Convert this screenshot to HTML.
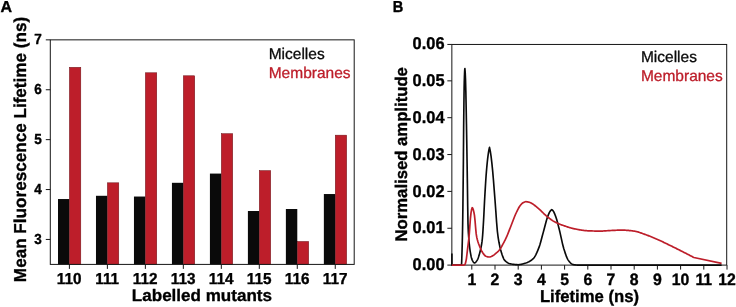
<!DOCTYPE html>
<html><head><meta charset="utf-8"><title>Figure</title>
<style>
html,body{margin:0;padding:0;background:#fff;}
body{width:736px;height:307px;overflow:hidden;}
svg{display:block;filter:blur(0.35px);}
text{font-family:"Liberation Sans",Arial,Helvetica,sans-serif;text-rendering:geometricPrecision;}
.tk,.tky,.tk2,.tk2y,.ax,.axa,.axb,.pla,.plb{stroke:#000;stroke-width:0.35px;stroke-linejoin:round;}
.tk{font-weight:bold;font-size:15.3px;}
.tky{font-weight:bold;font-size:13.5px;}
.tk2y{font-weight:bold;font-size:16.4px;}
.axb{font-weight:bold;font-size:16.7px;}
.axa{font-weight:bold;font-size:17.12px;}
.tk2{font-weight:bold;font-size:15.8px;}
.ax{font-weight:bold;font-size:17.05px;}
.lg{font-size:15.5px;stroke-width:0.3px;stroke-linejoin:round;}
.pla{font-weight:bold;font-size:16px;}
.plb{font-weight:bold;font-size:14.6px;}
</style></head><body>
<svg width="736" height="307" viewBox="0 0 736 307">
<rect x="0" y="0" width="736" height="307" fill="#ffffff"/>
<g id="panelA">
<rect x="58.00" y="199.03" width="11.40" height="65.37" fill="#0a0a0a"/>
<rect x="69.40" y="67.29" width="11.40" height="197.10" fill="#bd1e2a" stroke="#6a1218" stroke-width="0.5"/>
<rect x="95.98" y="195.79" width="11.40" height="68.61" fill="#0a0a0a"/>
<rect x="107.38" y="182.81" width="11.40" height="81.59" fill="#bd1e2a" stroke="#6a1218" stroke-width="0.5"/>
<rect x="133.96" y="196.54" width="11.40" height="67.86" fill="#0a0a0a"/>
<rect x="145.36" y="72.78" width="11.40" height="191.62" fill="#bd1e2a" stroke="#6a1218" stroke-width="0.5"/>
<rect x="171.94" y="182.81" width="11.40" height="81.59" fill="#0a0a0a"/>
<rect x="183.34" y="75.78" width="11.40" height="188.62" fill="#bd1e2a" stroke="#6a1218" stroke-width="0.5"/>
<rect x="209.92" y="173.58" width="11.40" height="90.82" fill="#0a0a0a"/>
<rect x="221.32" y="133.66" width="11.40" height="130.74" fill="#bd1e2a" stroke="#6a1218" stroke-width="0.5"/>
<rect x="247.90" y="211.01" width="11.40" height="53.39" fill="#0a0a0a"/>
<rect x="259.30" y="170.59" width="11.40" height="93.81" fill="#bd1e2a" stroke="#6a1218" stroke-width="0.5"/>
<rect x="285.88" y="209.01" width="11.40" height="55.39" fill="#0a0a0a"/>
<rect x="297.28" y="241.45" width="11.40" height="22.95" fill="#bd1e2a" stroke="#6a1218" stroke-width="0.5"/>
<rect x="323.86" y="194.04" width="11.40" height="70.36" fill="#0a0a0a"/>
<rect x="335.26" y="135.16" width="11.40" height="129.24" fill="#bd1e2a" stroke="#6a1218" stroke-width="0.5"/>
<rect x="50.3" y="39.85" width="303.9" height="224.54999999999998" fill="none" stroke="#161616" stroke-width="1"/>
<line x1="45.8" y1="239.45" x2="50.3" y2="239.45" stroke="#161616" stroke-width="1"/>
<text class="tky" transform="translate(41.80,243.80) scale(1,1.08)" text-anchor="end" fill="#000">3</text>
<line x1="45.8" y1="189.55" x2="50.3" y2="189.55" stroke="#161616" stroke-width="1"/>
<text class="tky" transform="translate(41.80,193.90) scale(1,1.08)" text-anchor="end" fill="#000">4</text>
<line x1="45.8" y1="139.65" x2="50.3" y2="139.65" stroke="#161616" stroke-width="1"/>
<text class="tky" transform="translate(41.80,144.00) scale(1,1.08)" text-anchor="end" fill="#000">5</text>
<line x1="45.8" y1="89.75" x2="50.3" y2="89.75" stroke="#161616" stroke-width="1"/>
<text class="tky" transform="translate(41.80,94.10) scale(1,1.08)" text-anchor="end" fill="#000">6</text>
<line x1="45.8" y1="39.85" x2="50.3" y2="39.85" stroke="#161616" stroke-width="1"/>
<text class="tky" transform="translate(41.80,44.20) scale(1,1.08)" text-anchor="end" fill="#000">7</text>
<line x1="69.40" y1="264.4" x2="69.40" y2="268.9" stroke="#161616" stroke-width="1"/>
<text class="tk" transform="translate(69.20,284.30) scale(1,1.04)" text-anchor="middle" fill="#000">110</text>
<line x1="107.38" y1="264.4" x2="107.38" y2="268.9" stroke="#161616" stroke-width="1"/>
<text class="tk" transform="translate(107.18,284.30) scale(1,1.04)" text-anchor="middle" fill="#000">111</text>
<line x1="145.36" y1="264.4" x2="145.36" y2="268.9" stroke="#161616" stroke-width="1"/>
<text class="tk" transform="translate(145.16,284.30) scale(1,1.04)" text-anchor="middle" fill="#000">112</text>
<line x1="183.34" y1="264.4" x2="183.34" y2="268.9" stroke="#161616" stroke-width="1"/>
<text class="tk" transform="translate(183.14,284.30) scale(1,1.04)" text-anchor="middle" fill="#000">113</text>
<line x1="221.32" y1="264.4" x2="221.32" y2="268.9" stroke="#161616" stroke-width="1"/>
<text class="tk" transform="translate(221.12,284.30) scale(1,1.04)" text-anchor="middle" fill="#000">114</text>
<line x1="259.30" y1="264.4" x2="259.30" y2="268.9" stroke="#161616" stroke-width="1"/>
<text class="tk" transform="translate(259.10,284.30) scale(1,1.04)" text-anchor="middle" fill="#000">115</text>
<line x1="297.28" y1="264.4" x2="297.28" y2="268.9" stroke="#161616" stroke-width="1"/>
<text class="tk" transform="translate(297.08,284.30) scale(1,1.04)" text-anchor="middle" fill="#000">116</text>
<line x1="335.26" y1="264.4" x2="335.26" y2="268.9" stroke="#161616" stroke-width="1"/>
<text class="tk" transform="translate(335.06,284.30) scale(1,1.04)" text-anchor="middle" fill="#000">117</text>
<text class="ax" transform="translate(201.90,301.40) scale(1,0.98)" text-anchor="middle" fill="#000">Labelled mutants</text>
<text class="axa" transform="translate(25.80,149.50) rotate(-90) scale(1,1.01)" text-anchor="middle" fill="#000">Mean Fluorescence Lifetime (ns)</text>
<text class="lg" transform="translate(268.70,59.30) scale(1,1.0)" text-anchor="start" fill="#0a0a0a" stroke="#0a0a0a">Micelles</text>
<text class="lg" transform="translate(268.70,78.00) scale(1,1.0)" text-anchor="start" fill="#bd1e2a" stroke="#bd1e2a">Membranes</text>
<text class="pla" transform="translate(0.50,12.00) scale(1,0.99)" text-anchor="start" fill="#000">A</text>
</g>
<g id="panelB">
<rect x="451.85" y="44.45" width="274.85" height="220.65000000000003" fill="none" stroke="#161616" stroke-width="1"/>
<line x1="447.35" y1="265.10" x2="451.85" y2="265.10" stroke="#161616" stroke-width="1"/>
<text class="tk2y" transform="translate(444.50,270.20) scale(1,1.04)" text-anchor="end" fill="#000">0.00</text>
<line x1="447.35" y1="228.25" x2="451.85" y2="228.25" stroke="#161616" stroke-width="1"/>
<text class="tk2y" transform="translate(444.50,233.35) scale(1,1.04)" text-anchor="end" fill="#000">0.01</text>
<line x1="447.35" y1="191.40" x2="451.85" y2="191.40" stroke="#161616" stroke-width="1"/>
<text class="tk2y" transform="translate(444.50,196.50) scale(1,1.04)" text-anchor="end" fill="#000">0.02</text>
<line x1="447.35" y1="154.55" x2="451.85" y2="154.55" stroke="#161616" stroke-width="1"/>
<text class="tk2y" transform="translate(444.50,159.65) scale(1,1.04)" text-anchor="end" fill="#000">0.03</text>
<line x1="447.35" y1="117.70" x2="451.85" y2="117.70" stroke="#161616" stroke-width="1"/>
<text class="tk2y" transform="translate(444.50,122.80) scale(1,1.04)" text-anchor="end" fill="#000">0.04</text>
<line x1="447.35" y1="80.85" x2="451.85" y2="80.85" stroke="#161616" stroke-width="1"/>
<text class="tk2y" transform="translate(444.50,85.95) scale(1,1.04)" text-anchor="end" fill="#000">0.05</text>
<line x1="447.35" y1="44.45" x2="451.85" y2="44.45" stroke="#161616" stroke-width="1"/>
<text class="tk2y" transform="translate(444.50,49.45) scale(1,1.04)" text-anchor="end" fill="#000">0.06</text>
<line x1="471.80" y1="265.1" x2="471.80" y2="269.6" stroke="#161616" stroke-width="1"/>
<text class="tk2" transform="translate(471.80,285.40) scale(1,1.04)" text-anchor="middle" fill="#000">1</text>
<line x1="495.00" y1="265.1" x2="495.00" y2="269.6" stroke="#161616" stroke-width="1"/>
<text class="tk2" transform="translate(495.00,285.40) scale(1,1.04)" text-anchor="middle" fill="#000">2</text>
<line x1="518.20" y1="265.1" x2="518.20" y2="269.6" stroke="#161616" stroke-width="1"/>
<text class="tk2" transform="translate(518.20,285.40) scale(1,1.04)" text-anchor="middle" fill="#000">3</text>
<line x1="541.40" y1="265.1" x2="541.40" y2="269.6" stroke="#161616" stroke-width="1"/>
<text class="tk2" transform="translate(541.40,285.40) scale(1,1.04)" text-anchor="middle" fill="#000">4</text>
<line x1="564.60" y1="265.1" x2="564.60" y2="269.6" stroke="#161616" stroke-width="1"/>
<text class="tk2" transform="translate(564.60,285.40) scale(1,1.04)" text-anchor="middle" fill="#000">5</text>
<line x1="587.80" y1="265.1" x2="587.80" y2="269.6" stroke="#161616" stroke-width="1"/>
<text class="tk2" transform="translate(587.80,285.40) scale(1,1.04)" text-anchor="middle" fill="#000">6</text>
<line x1="611.00" y1="265.1" x2="611.00" y2="269.6" stroke="#161616" stroke-width="1"/>
<text class="tk2" transform="translate(611.00,285.40) scale(1,1.04)" text-anchor="middle" fill="#000">7</text>
<line x1="634.20" y1="265.1" x2="634.20" y2="269.6" stroke="#161616" stroke-width="1"/>
<text class="tk2" transform="translate(634.20,285.40) scale(1,1.04)" text-anchor="middle" fill="#000">8</text>
<line x1="657.40" y1="265.1" x2="657.40" y2="269.6" stroke="#161616" stroke-width="1"/>
<text class="tk2" transform="translate(657.40,285.40) scale(1,1.04)" text-anchor="middle" fill="#000">9</text>
<line x1="680.60" y1="265.1" x2="680.60" y2="269.6" stroke="#161616" stroke-width="1"/>
<text class="tk2" transform="translate(680.60,285.40) scale(1,1.04)" text-anchor="middle" fill="#000">10</text>
<line x1="703.80" y1="265.1" x2="703.80" y2="269.6" stroke="#161616" stroke-width="1"/>
<text class="tk2" transform="translate(703.80,285.40) scale(1,1.04)" text-anchor="middle" fill="#000">11</text>
<line x1="727.00" y1="265.1" x2="727.00" y2="269.6" stroke="#161616" stroke-width="1"/>
<text class="tk2" transform="translate(727.00,285.40) scale(1,1.04)" text-anchor="middle" fill="#000">12</text>
<text class="axb" transform="translate(589.50,302.40) scale(1,1.02)" text-anchor="middle" fill="#000">Lifetime (ns)</text>
<text class="axb" transform="translate(406.90,154.30) rotate(-90) scale(1,1.01)" text-anchor="middle" fill="#000">Normalised amplitude</text>
<text class="lg" transform="translate(640.90,62.20) scale(1,1.0)" text-anchor="start" fill="#0a0a0a" stroke="#0a0a0a">Micelles</text>
<text class="lg" transform="translate(640.90,80.70) scale(1,1.0)" text-anchor="start" fill="#bd1e2a" stroke="#bd1e2a">Membranes</text>
<text class="plb" transform="translate(392.70,12.00) scale(1,1.085)" text-anchor="start" fill="#000">B</text>
<path d="M451.90,253.60 L451.90,265.10 L460.60,265.10 L460.60,265.10 L460.65,265.10 L460.71,265.09 L460.76,265.08 L460.82,265.06 L460.87,265.03 L460.93,265.00 L460.98,264.97 L461.04,264.92 L461.09,264.88 L461.14,264.82 L461.20,264.76 L461.25,264.69 L461.31,264.62 L461.36,264.54 L461.42,264.45 L461.47,264.35 L461.53,264.20 L461.58,263.68 L461.63,262.79 L461.69,261.59 L461.74,260.15 L461.80,258.53 L461.85,256.79 L461.91,255.01 L461.96,253.23 L462.02,251.53 L462.07,249.79 L462.12,247.95 L462.18,246.01 L462.23,243.97 L462.29,241.82 L462.34,239.54 L462.40,237.15 L462.45,234.63 L462.51,231.97 L462.56,229.17 L462.61,226.23 L462.67,223.02 L462.72,219.51 L462.78,215.73 L462.83,211.70 L462.89,207.44 L462.94,202.98 L462.99,198.34 L463.05,193.53 L463.10,188.59 L463.16,183.54 L463.21,178.39 L463.27,173.18 L463.32,167.85 L463.38,161.90 L463.43,155.39 L463.48,148.55 L463.54,141.61 L463.59,134.80 L463.65,128.34 L463.70,122.47 L463.76,117.40 L463.81,112.70 L463.87,108.06 L463.92,103.55 L463.97,99.22 L464.03,95.13 L464.08,91.35 L464.14,87.93 L464.19,84.94 L464.25,82.43 L464.30,80.46 L464.36,78.79 L464.41,77.17 L464.46,75.62 L464.52,74.17 L464.57,72.83 L464.63,71.63 L464.68,70.60 L464.74,69.76 L464.79,69.13 L464.85,68.74 L464.90,68.60 L464.90,68.60 L465.21,72.63 L465.52,79.80 L465.83,90.95 L466.15,106.91 L466.46,123.86 L466.77,142.60 L467.08,162.43 L467.39,183.15 L467.70,206.27 L468.01,224.12 L468.33,231.90 L468.64,236.49 L468.95,240.35 L469.26,243.75 L469.57,246.70 L469.88,249.21 L470.19,251.29 L470.51,253.18 L470.82,254.92 L471.13,256.47 L471.44,257.80 L471.75,258.86 L472.06,259.63 L472.37,260.29 L472.68,260.90 L473.00,261.47 L473.31,261.96 L473.62,262.36 L473.93,262.67 L474.24,262.85 L474.55,262.90 L474.86,262.83 L475.18,262.66 L475.49,262.41 L475.80,262.09 L476.11,261.72 L476.42,261.31 L476.73,260.88 L477.04,260.44 L477.36,259.92 L477.67,259.29 L477.98,258.56 L478.29,257.73 L478.60,256.82 L478.91,255.82 L479.22,254.77 L479.54,253.65 L479.85,252.48 L480.16,251.26 L480.47,250.01 L480.78,248.67 L481.09,247.18 L481.40,245.51 L481.72,243.59 L482.03,241.38 L482.34,238.74 L482.65,235.08 L482.96,230.57 L483.27,225.53 L483.58,220.28 L483.89,214.42 L484.21,207.83 L484.52,201.50 L484.83,195.98 L485.14,190.61 L485.45,185.43 L485.76,180.52 L486.07,175.96 L486.39,171.84 L486.70,168.21 L487.01,164.89 L487.32,161.79 L487.63,158.93 L487.94,156.34 L488.25,154.02 L488.57,152.00 L488.88,150.22 L489.19,148.68 L489.50,147.40 L489.50,147.40 L490.29,151.16 L491.08,156.42 L491.87,163.18 L492.65,170.88 L493.44,179.98 L494.23,190.11 L495.02,200.25 L495.81,211.06 L496.60,222.21 L497.39,231.50 L498.17,237.53 L498.96,242.28 L499.75,246.20 L500.54,249.42 L501.33,252.15 L502.12,254.68 L502.91,256.94 L503.69,258.80 L504.48,260.14 L505.27,260.95 L506.06,261.62 L506.85,262.21 L507.64,262.72 L508.43,263.14 L509.22,263.48 L510.00,263.74 L510.79,263.92 L511.58,264.06 L512.37,264.19 L513.16,264.32 L513.95,264.42 L514.74,264.52 L515.52,264.59 L516.31,264.65 L517.10,264.68 L517.89,264.70 L518.68,264.68 L519.47,264.61 L520.26,264.49 L521.04,264.33 L521.83,264.15 L522.62,263.94 L523.41,263.71 L524.20,263.47 L524.99,263.23 L525.78,262.99 L526.56,262.71 L527.35,262.40 L528.14,262.05 L528.93,261.67 L529.72,261.24 L530.51,260.76 L531.30,260.23 L532.08,259.64 L532.87,259.00 L533.66,258.22 L534.45,257.17 L535.24,255.86 L536.03,254.34 L536.82,252.65 L537.61,250.82 L538.39,248.91 L539.18,246.89 L539.97,244.47 L540.76,241.73 L541.55,238.80 L542.34,235.80 L543.13,232.88 L543.91,230.04 L544.70,227.04 L545.49,223.99 L546.28,221.05 L547.07,218.37 L547.86,216.11 L548.65,214.18 L549.43,212.46 L550.22,211.09 L551.01,210.17 L551.80,209.60 L551.80,209.60 L552.13,209.83 L552.46,210.13 L552.79,210.49 L553.13,210.90 L553.46,211.38 L553.79,211.95 L554.12,212.60 L554.45,213.34 L554.78,214.13 L555.12,214.98 L555.45,215.86 L555.78,216.77 L556.11,217.71 L556.44,218.73 L556.77,219.84 L557.11,221.02 L557.44,222.25 L557.77,223.52 L558.10,224.83 L558.43,226.15 L558.76,227.48 L559.10,228.80 L559.43,230.11 L559.76,231.47 L560.09,232.89 L560.42,234.36 L560.75,235.86 L561.09,237.38 L561.42,238.90 L561.75,240.41 L562.08,241.90 L562.41,243.35 L562.74,244.74 L563.08,246.07 L563.41,247.32 L563.74,248.48 L564.07,249.54 L564.40,250.58 L564.73,251.61 L565.07,252.63 L565.40,253.62 L565.73,254.57 L566.06,255.50 L566.39,256.37 L566.72,257.20 L567.06,257.97 L567.39,258.68 L567.72,259.32 L568.05,259.89 L568.38,260.38 L568.71,260.81 L569.05,261.23 L569.38,261.64 L569.71,262.04 L570.04,262.41 L570.37,262.76 L570.70,263.09 L571.04,263.39 L571.37,263.67 L571.70,263.91 L572.03,264.11 L572.36,264.28 L572.69,264.42 L573.03,264.51 L573.36,264.57 L573.69,264.64 L574.02,264.70 L574.35,264.76 L574.68,264.82 L575.02,264.87 L575.35,264.91 L575.68,264.96 L576.01,264.99 L576.34,265.02 L576.67,265.05 L577.01,265.07 L577.34,265.09 L577.67,265.10 L578.00,265.10 L721.60,265.10" fill="none" stroke="#0a0a0a" stroke-width="1.65" stroke-linejoin="round"/>
<path d="M451.90,265.10 L463.50,265.10 L463.50,265.10 L464.08,264.99 L464.65,264.68 L465.23,263.92 L465.81,261.82 L466.39,258.86 L466.96,254.26 L467.54,249.18 L468.12,244.57 L468.70,239.80 L469.27,234.07 L469.85,226.18 L470.43,218.29 L471.01,212.96 L471.58,209.56 L472.16,207.71 L472.74,208.20 L473.32,209.85 L473.89,212.21 L474.47,215.46 L475.05,220.94 L475.63,227.86 L476.20,233.95 L476.78,237.39 L477.36,239.82 L477.94,241.81 L478.51,243.50 L479.09,245.01 L479.67,246.48 L480.25,247.87 L480.82,249.19 L481.40,250.41 L481.98,251.52 L482.56,252.51 L483.13,253.38 L483.71,254.13 L484.29,254.85 L484.87,255.49 L485.44,255.99 L486.02,256.31 L486.60,256.51 L487.18,256.69 L487.75,256.84 L488.33,256.95 L488.91,257.00 L489.48,256.98 L490.06,256.87 L490.64,256.69 L491.22,256.46 L491.79,256.19 L492.37,255.91 L492.95,255.62 L493.53,255.28 L494.10,254.88 L494.68,254.42 L495.26,253.94 L495.84,253.44 L496.41,252.94 L496.99,252.44 L497.57,251.91 L498.15,251.35 L498.72,250.74 L499.30,250.09 L499.88,249.37 L500.46,248.53 L501.03,247.59 L501.61,246.57 L502.19,245.51 L502.77,244.43 L503.34,243.37 L503.92,242.28 L504.50,241.16 L505.08,240.01 L505.65,238.82 L506.23,237.59 L506.81,236.31 L507.39,234.97 L507.96,233.57 L508.54,232.13 L509.12,230.66 L509.70,229.18 L510.27,227.70 L510.85,226.23 L511.43,224.77 L512.01,223.27 L512.58,221.74 L513.16,220.20 L513.74,218.69 L514.32,217.21 L514.89,215.80 L515.47,214.48 L516.05,213.24 L516.62,212.00 L517.20,210.79 L517.78,209.63 L518.36,208.52 L518.93,207.50 L519.51,206.56 L520.09,205.74 L520.67,205.02 L521.24,204.33 L521.82,203.72 L522.40,203.21 L522.98,202.81 L523.55,202.49 L524.13,202.20 L524.71,201.95 L525.29,201.77 L525.86,201.70 L526.44,201.72 L527.02,201.79 L527.60,201.89 L528.17,202.01 L528.75,202.14 L529.33,202.29 L529.91,202.49 L530.48,202.74 L531.06,203.02 L531.64,203.32 L532.22,203.64 L532.79,204.00 L533.37,204.40 L533.95,204.82 L534.53,205.26 L535.10,205.72 L535.68,206.20 L536.26,206.68 L536.84,207.17 L537.41,207.67 L537.99,208.16 L538.57,208.64 L539.15,209.14 L539.72,209.66 L540.30,210.19 L540.88,210.74 L541.45,211.30 L542.03,211.86 L542.61,212.43 L543.19,213.00 L543.76,213.56 L544.34,214.12 L544.92,214.67 L545.50,215.21 L546.07,215.73 L546.65,216.23 L547.23,216.71 L547.81,217.16 L548.38,217.60 L548.96,218.04 L549.54,218.48 L550.12,218.90 L550.69,219.31 L551.27,219.72 L551.85,220.11 L552.43,220.49 L553.00,220.86 L553.58,221.21 L554.16,221.54 L554.74,221.86 L555.31,222.16 L555.89,222.45 L556.47,222.73 L557.05,223.00 L557.62,223.26 L558.20,223.52 L558.78,223.77 L559.36,224.01 L559.93,224.24 L560.51,224.47 L561.09,224.69 L561.67,224.90 L562.24,225.12 L562.82,225.32 L563.40,225.53 L563.98,225.73 L564.55,225.92 L565.13,226.12 L565.71,226.32 L566.28,226.51 L566.86,226.70 L567.44,226.89 L568.02,227.08 L568.59,227.26 L569.17,227.44 L569.75,227.61 L570.33,227.78 L570.90,227.95 L571.48,228.11 L572.06,228.26 L572.64,228.41 L573.21,228.55 L573.79,228.68 L574.37,228.81 L574.95,228.93 L575.52,229.04 L576.10,229.15 L576.68,229.26 L577.26,229.37 L577.83,229.48 L578.41,229.59 L578.99,229.69 L579.57,229.79 L580.14,229.89 L580.72,229.99 L581.30,230.08 L581.88,230.17 L582.45,230.26 L583.03,230.34 L583.61,230.41 L584.19,230.49 L584.76,230.55 L585.34,230.61 L585.92,230.66 L586.50,230.71 L587.07,230.75 L587.65,230.78 L588.23,230.81 L588.81,230.83 L589.38,230.86 L589.96,230.88 L590.54,230.90 L591.12,230.92 L591.69,230.94 L592.27,230.96 L592.85,230.98 L593.42,231.00 L594.00,231.01 L594.58,231.03 L595.16,231.04 L595.73,231.05 L596.31,231.07 L596.89,231.08 L597.47,231.08 L598.04,231.09 L598.62,231.09 L599.20,231.10 L599.78,231.10 L600.35,231.10 L600.93,231.09 L601.51,231.08 L602.09,231.06 L602.66,231.03 L603.24,231.00 L603.82,230.97 L604.40,230.94 L604.97,230.90 L605.55,230.86 L606.13,230.82 L606.71,230.77 L607.28,230.73 L607.86,230.69 L608.44,230.65 L609.02,230.61 L609.59,230.57 L610.17,230.54 L610.75,230.51 L611.33,230.49 L611.90,230.46 L612.48,230.43 L613.06,230.40 L613.64,230.37 L614.21,230.34 L614.79,230.31 L615.37,230.28 L615.95,230.26 L616.52,230.23 L617.10,230.20 L617.68,230.18 L618.25,230.16 L618.83,230.14 L619.41,230.13 L619.99,230.11 L620.56,230.11 L621.14,230.10 L621.72,230.10 L622.30,230.11 L622.87,230.12 L623.45,230.13 L624.03,230.15 L624.61,230.18 L625.18,230.21 L625.76,230.24 L626.34,230.28 L626.92,230.32 L627.49,230.37 L628.07,230.42 L628.65,230.47 L629.23,230.53 L629.80,230.58 L630.38,230.64 L630.96,230.71 L631.54,230.77 L632.11,230.84 L632.69,230.91 L633.27,230.98 L633.85,231.06 L634.42,231.13 L635.00,231.22 L635.58,231.33 L636.16,231.46 L636.73,231.60 L637.31,231.75 L637.89,231.92 L638.47,232.10 L639.04,232.29 L639.62,232.48 L640.20,232.68 L640.78,232.89 L641.35,233.10 L641.93,233.32 L642.51,233.53 L643.08,233.75 L643.66,233.96 L644.24,234.17 L644.82,234.37 L645.39,234.57 L645.97,234.78 L646.55,234.99 L647.13,235.20 L647.70,235.41 L648.28,235.63 L648.86,235.85 L649.44,236.08 L650.01,236.30 L650.59,236.53 L651.17,236.77 L651.75,237.00 L652.32,237.24 L652.90,237.47 L653.48,237.71 L654.06,237.96 L654.63,238.20 L655.21,238.45 L655.79,238.69 L656.37,238.94 L656.94,239.19 L657.52,239.44 L658.10,239.69 L658.68,239.95 L659.25,240.21 L659.83,240.48 L660.41,240.75 L660.99,241.02 L661.56,241.29 L662.14,241.56 L662.72,241.84 L663.30,242.12 L663.87,242.40 L664.45,242.68 L665.03,242.96 L665.61,243.24 L666.18,243.52 L666.76,243.80 L667.34,244.08 L667.92,244.36 L668.49,244.64 L669.07,244.92 L669.65,245.21 L670.22,245.49 L670.80,245.77 L671.38,246.05 L671.96,246.34 L672.53,246.62 L673.11,246.91 L673.69,247.19 L674.27,247.48 L674.84,247.77 L675.42,248.05 L676.00,248.34 L676.58,248.63 L677.15,248.92 L677.73,249.21 L678.31,249.50 L678.89,249.79 L679.46,250.08 L680.04,250.37 L680.62,250.66 L681.20,250.95 L681.77,251.25 L682.35,251.54 L682.93,251.83 L683.51,252.13 L684.08,252.42 L684.66,252.72 L685.24,253.01 L685.82,253.31 L686.39,253.60 L686.97,253.90 L687.55,254.20 L688.13,254.50 L688.70,254.79 L689.28,255.09 L689.86,255.39 L690.44,255.69 L691.01,255.99 L691.59,256.29 L692.17,256.59 L692.75,256.90 L693.32,257.20 L693.90,257.50 L721.60,263.40" fill="none" stroke="#bd1e2a" stroke-width="1.7" stroke-linejoin="round"/>
</g>
</svg>
</body></html>
